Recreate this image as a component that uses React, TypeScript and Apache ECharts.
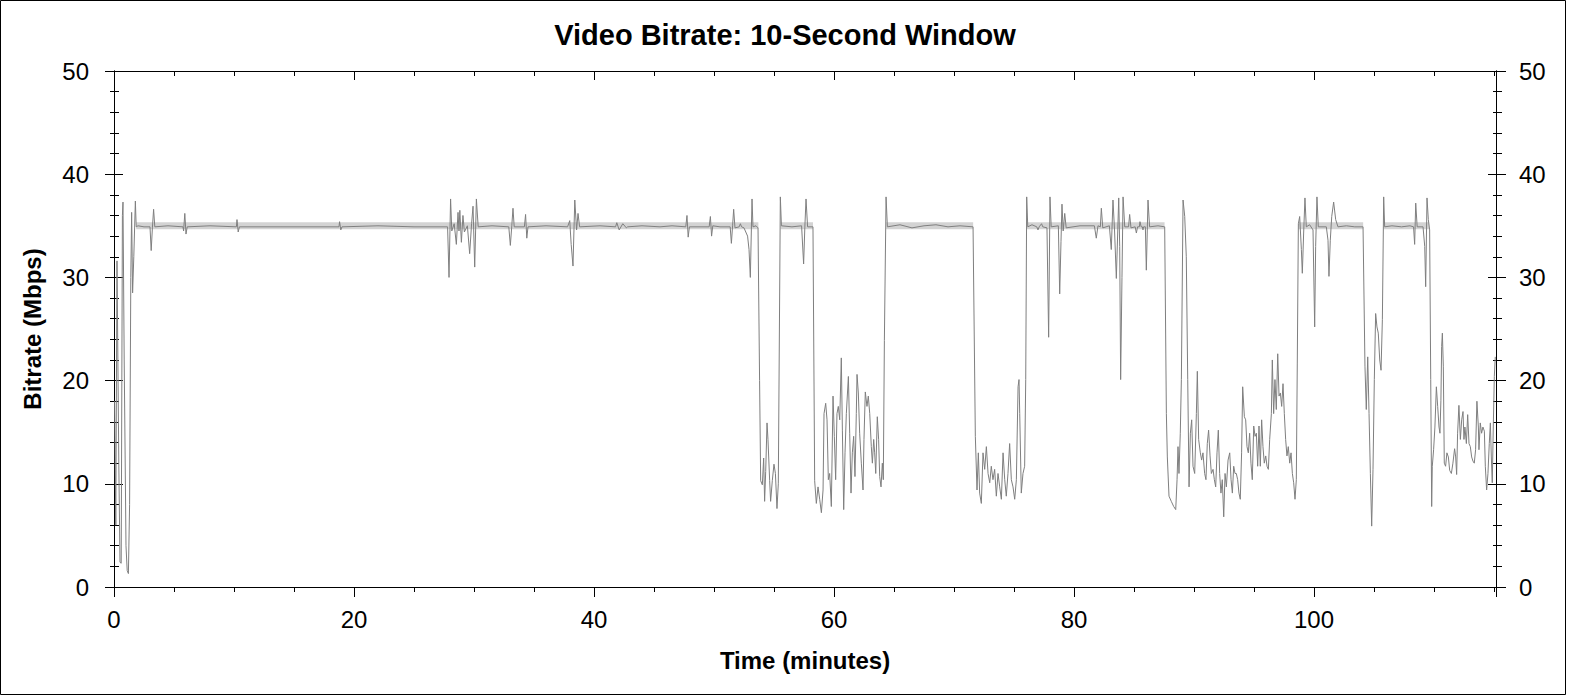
import React, { useEffect, useRef } from "react";
import * as echarts from "echarts";

// ---- Axis setup (minutes / Mbps) ----
const X_MAX = 115.17;
const X_STEP = 20;
const Y_MAX = 50;
const Y_STEP = 10;

// ---- Light band (peak envelope) on the constant-bitrate stretches ----
const bandLevel = 35;
const bandSegments: [number, number][] = [
  [1.85, 53.7],
  [55.55, 58.25],
  [64.35, 71.6],
  [76.05, 87.55],
  [98.7, 104.1],
  [105.8, 109.6],
];

// ---- Bitrate trace: [minutes, Mbps] ----
const startBurst = [
  [0.05, 18], [0.15, 6], [0.25, 31.6], [0.4, 12], [0.5, 2.4], [0.6, 2.3], [0.7, 36], [0.75, 37.3],
  [0.85, 22], [1.0, 4], [1.1, 1.6], [1.2, 1.3], [1.3, 8], [1.4, 30], [1.47, 36.3], [1.55, 28.5],
  [1.65, 32], [1.78, 37.4], [1.85, 34.9],
];

const plateau1 = [
  [2.0, 35.0], [2.5, 34.9], [3.0, 34.9], [3.1, 32.6], [3.2, 34.8], [3.3, 36.6], [3.4, 34.9], [4.5, 35.0],
  [5.75, 34.9], [5.8, 34.5], [5.9, 36.2], [6.0, 34.2], [6.1, 34.9], [8, 35.0], [10.2, 34.9], [10.25, 35.6],
  [10.35, 34.4], [10.45, 34.9], [14, 34.9], [18.75, 34.9], [18.8, 35.4], [18.9, 34.6], [19.0, 34.9],
  [22, 35.0], [25, 34.9], [27.8, 34.9],
];

const plateau2 = [
  [27.92, 30.0], [28.05, 37.6], [28.15, 34.5], [28.35, 35.2], [28.53, 33.2], [28.67, 36.3], [28.75, 34.5],
  [28.82, 36.5], [28.95, 33.4], [29.08, 36.0], [29.2, 34.4], [29.45, 35.0], [29.64, 32.3], [29.8, 35.2],
  [29.92, 36.9], [30.06, 31.0], [30.2, 37.6], [30.35, 34.9], [31.5, 35.0], [32.9, 34.9], [33.03, 33.1],
  [33.15, 35.0], [33.25, 36.7], [33.35, 34.9], [34.2, 34.9], [34.3, 36.1], [34.4, 33.8], [34.5, 34.9],
  [36, 35.0], [37.8, 34.9], [37.98, 35.5], [38.1, 33.2], [38.25, 31.1], [38.4, 37.5], [38.55, 34.6],
  [38.67, 36.2], [38.8, 34.9], [40.5, 35.0], [41.8, 34.9], [41.9, 35.3], [42.1, 34.6], [42.4, 35.2],
  [42.7, 34.8], [42.8, 34.9], [44, 35.0], [45.5, 34.9], [46.5, 35.0], [47.65, 34.9], [47.75, 36.0],
  [47.85, 33.9], [47.95, 34.9], [49.6, 34.9], [49.7, 35.9], [49.8, 34.0], [49.9, 35.0], [50.5, 34.9],
  [51.35, 34.9], [51.45, 33.3], [51.55, 35.0], [51.64, 36.6], [51.75, 34.8], [52.1, 34.9], [52.2, 35.2],
  [52.3, 34.9], [52.5, 34.8], [52.8, 34.0], [52.92, 32.7], [53.03, 30.0], [53.17, 37.6], [53.25, 34.9],
  [53.5, 35.0], [53.67, 34.8],
];

const lowA = [
  [53.8, 20.0], [53.89, 10.3], [54.03, 9.9], [54.14, 12.5], [54.22, 8.3], [54.31, 11.2], [54.42, 15.9],
  [54.5, 14.3], [54.64, 10.3], [54.72, 8.3], [54.86, 10.3], [55.0, 11.9], [55.12, 11.0], [55.25, 7.6],
  [55.36, 10.0], [55.53, 37.8],
];

const plateau3 = [
  [55.62, 35.0], [56.5, 34.9], [57.3, 35.0], [57.47, 31.3], [57.57, 34.8], [57.67, 37.6], [57.8, 34.9],
  [58.25, 34.9],
];

const lowB = [
  [58.39, 10.3], [58.53, 8.1], [58.67, 9.7], [58.81, 8.5], [58.95, 7.2], [59.09, 9.4], [59.17, 16.8],
  [59.31, 17.8], [59.42, 16.2], [59.53, 10.4], [59.64, 11.0], [59.78, 7.8], [59.92, 18.5], [60.03, 14.6],
  [60.14, 10.4], [60.25, 16.8], [60.36, 17.5], [60.48, 16.2], [60.61, 22.2], [60.7, 15.2], [60.81, 7.5],
  [60.92, 13.0], [61.03, 16.8], [61.2, 20.4], [61.31, 14.9], [61.42, 9.1], [61.53, 13.0], [61.64, 14.6],
  [61.75, 10.7], [61.86, 16.8], [61.92, 20.6], [62.03, 18.8], [62.14, 14.9], [62.28, 12.0], [62.42, 9.4],
  [62.5, 14.3], [62.61, 18.9], [62.75, 17.5], [62.86, 18.5], [62.98, 16.8], [63.11, 13.6], [63.2, 12.0],
  [63.31, 14.3], [63.39, 13.0], [63.48, 11.0], [63.61, 16.5], [63.72, 14.3], [63.81, 10.7], [63.92, 9.7],
  [64.03, 12.0], [64.11, 10.4], [64.2, 23.9], [64.34, 37.8],
];

const plateau4 = [
  [64.45, 34.9], [65.5, 35.1], [66.5, 34.8], [67.5, 35.0], [68.5, 35.1], [69.5, 34.9], [70.5, 35.0],
  [71.59, 34.9],
];

const lowC = [
  [71.78, 14.6], [71.92, 9.4], [72.03, 13.0], [72.14, 9.1], [72.28, 8.1], [72.42, 13.0], [72.56, 11.4],
  [72.7, 13.6], [72.84, 11.0], [72.98, 10.1], [73.11, 11.7], [73.25, 10.4], [73.39, 11.4], [73.53, 8.8],
  [73.67, 11.0], [73.81, 9.7], [73.95, 8.5], [74.09, 13.0], [74.23, 10.4], [74.36, 8.8], [74.5, 11.0],
  [74.64, 13.9], [74.78, 10.4], [74.92, 9.7], [75.06, 8.5], [75.2, 10.4], [75.34, 19.4], [75.42, 20.1],
  [75.48, 16.8], [75.61, 9.1], [75.75, 11.0], [75.89, 11.7], [75.98, 20.1], [76.06, 37.8],
];

const plateau5 = [
  [76.15, 34.9], [76.5, 35.1], [76.9, 34.9], [77.0, 34.6], [77.1, 34.9], [77.3, 35.2], [77.4, 34.9],
  [77.75, 34.8], [77.89, 24.2], [78.0, 37.8], [78.1, 34.9], [78.7, 35.0], [78.81, 28.4], [78.92, 33.5],
  [79.0, 37.1], [79.1, 34.5], [79.23, 36.2], [79.35, 34.8], [80.5, 35.0], [81.7, 35.0], [81.86, 33.8],
  [82.0, 35.0], [82.2, 34.9], [82.28, 36.7], [82.4, 34.8], [82.95, 35.0], [83.11, 32.7], [83.25, 37.5],
  [83.38, 34.6], [83.53, 29.9], [83.73, 37.7], [83.81, 33.0], [83.89, 20.1], [84.0, 30.0], [84.09, 37.8],
  [84.23, 34.9], [84.55, 34.9], [84.64, 36.1], [84.75, 34.8], [85.1, 34.9], [85.2, 34.3], [85.3, 34.9],
  [85.45, 34.9], [85.5, 35.4], [85.6, 34.9], [85.7, 34.9], [85.75, 34.6], [85.8, 34.9], [85.95, 34.9],
  [86.03, 30.7], [86.17, 37.5], [86.3, 34.9], [87.0, 35.0], [87.56, 34.9],
];

const lowD = [
  [87.7, 16.8], [87.78, 12.6], [87.92, 8.8], [88.11, 8.3], [88.31, 7.8], [88.48, 7.5], [88.59, 10.4],
  [88.67, 13.6], [88.75, 11.0], [88.86, 14.9], [88.95, 20.1], [89.09, 37.5], [89.23, 35.9], [89.36, 32.0],
  [89.48, 20.1], [89.59, 9.7], [89.7, 14.9], [89.81, 16.2], [89.92, 11.7], [90.06, 11.0], [90.2, 16.8],
  [90.28, 20.9], [90.39, 14.3], [90.53, 13.0], [90.64, 12.3], [90.75, 13.0], [90.89, 11.0], [91.0, 10.4],
  [91.11, 13.9], [91.22, 15.2], [91.34, 12.7], [91.45, 11.0], [91.59, 11.4], [91.7, 10.4], [91.81, 9.7],
  [91.92, 13.0], [92.03, 15.2], [92.14, 11.0], [92.25, 9.1], [92.36, 10.4], [92.48, 6.8], [92.59, 11.0],
  [92.7, 9.7], [92.84, 12.3], [92.98, 13.0], [93.09, 10.4], [93.2, 9.1], [93.31, 11.7], [93.42, 11.0],
  [93.53, 11.0], [93.64, 10.4], [93.75, 9.1], [93.86, 8.5], [93.97, 13.0], [94.06, 19.4], [94.2, 16.5],
  [94.31, 16.2], [94.42, 13.6], [94.53, 13.0], [94.64, 14.9], [94.75, 12.0], [94.86, 10.4], [94.98, 15.6],
  [95.09, 14.6], [95.2, 14.9], [95.31, 11.7], [95.42, 15.6], [95.53, 11.7], [95.64, 16.2], [95.75, 13.6],
  [95.86, 12.0], [95.98, 12.7], [96.09, 11.7], [96.2, 11.4], [96.31, 14.3], [96.45, 16.8], [96.53, 22.0],
  [96.64, 16.8], [96.75, 20.1], [96.86, 17.2], [96.98, 22.6], [97.09, 18.5], [97.2, 18.8], [97.31, 17.5],
  [97.42, 19.7], [97.53, 16.8], [97.64, 14.3], [97.75, 12.7], [97.86, 13.6], [97.98, 12.0], [98.09, 13.0],
  [98.2, 11.0], [98.31, 10.1], [98.42, 8.5], [98.53, 10.4], [98.61, 21.7],
];

const plateau6 = [
  [98.7, 35.2], [98.81, 35.9], [98.95, 32.7], [99.03, 30.4], [99.14, 34.3], [99.25, 37.7], [99.36, 34.9],
  [99.64, 35.1], [99.92, 34.6], [100.06, 25.2], [100.14, 33.0], [100.25, 37.8], [100.36, 34.9],
  [101.03, 34.9], [101.17, 33.6], [101.25, 30.1], [101.36, 33.6], [101.48, 35.9], [101.64, 37.3],
  [101.81, 35.6], [102.0, 34.9], [102.7, 35.0], [103.4, 34.9], [104.09, 34.9],
];

const lowE = [
  [104.25, 21.4], [104.36, 17.2], [104.48, 22.3], [104.59, 16.8], [104.7, 11.0], [104.81, 5.9],
  [104.92, 11.4], [105.03, 20.1], [105.14, 26.5], [105.25, 25.2], [105.36, 24.6], [105.48, 22.0],
  [105.59, 21.0], [105.7, 25.9], [105.81, 37.8],
];

const plateau7 = [
  [105.89, 34.9], [106.5, 35.0], [107.3, 34.9], [108.0, 35.0], [108.3, 34.9], [108.39, 33.2],
  [108.48, 37.2], [108.6, 34.9], [109.09, 34.9], [109.23, 33.0], [109.31, 29.1], [109.42, 37.7],
  [109.53, 35.6], [109.64, 34.6],
];

const tail = [
  [109.73, 20.1], [109.81, 7.8], [109.86, 11.7], [109.97, 13.3], [110.08, 15.5], [110.2, 19.4],
  [110.31, 17.5], [110.42, 15.5], [110.5, 14.9], [110.58, 18.1], [110.64, 23.3], [110.7, 24.6],
  [110.78, 21.4], [110.86, 12.0], [110.97, 11.7], [111.08, 13.0], [111.2, 12.6], [111.31, 11.3],
  [111.45, 11.0], [111.58, 12.0], [111.72, 13.4], [111.81, 12.6], [111.89, 10.9], [111.97, 14.9],
  [112.08, 17.6], [112.2, 14.3], [112.31, 16.2], [112.42, 17.0], [112.5, 14.3], [112.58, 15.5],
  [112.7, 13.9], [112.81, 16.7], [112.92, 13.9], [113.03, 13.6], [113.14, 12.6], [113.25, 12.2],
  [113.36, 12.0], [113.47, 13.3], [113.58, 18.0], [113.7, 15.5], [113.75, 13.3], [113.86, 15.9],
  [113.97, 14.9], [114.08, 15.5], [114.2, 15.1], [114.28, 11.7], [114.39, 9.4], [114.5, 11.0],
  [114.61, 13.9], [114.7, 15.9], [114.78, 12.6], [114.86, 10.1], [114.95, 15.9], [115.03, 20.4],
  [115.11, 22.3],
];

const TITLE = "Video Bitrate: 10-Second Window";
const X_NAME = "Time (minutes)";
const Y_NAME = "Bitrate (Mbps)";

export default function App() {
  const ref = useRef<HTMLDivElement>(null);

  useEffect(() => {
    if (!ref.current) return;
    const chart = echarts.init(ref.current, null, { renderer: "svg" });
    const font = "'Liberation Sans', Arial, Helvetica, sans-serif";
    const black = "#000000";

    const mainData = [
      ...startBurst, ...plateau1, ...plateau2, ...lowA, ...plateau3, ...lowB, ...plateau4,
      ...lowC, ...plateau5, ...lowD, ...plateau6, ...lowE, ...plateau7, ...tail,
    ];
    const bandData: any[] = [];
    bandSegments.forEach(([a, b]) => {
      bandData.push([a, bandLevel], [b, bandLevel], null);
    });

    const lineStyle = { color: black, width: 1 };

    const xBase = {
      type: "value",
      min: 0,
      max: X_MAX,
      interval: X_STEP,
      splitLine: { show: false },
      axisLine: { show: true, onZero: false, lineStyle },
    };
    const yBase = {
      type: "value",
      min: 0,
      max: Y_MAX,
      interval: Y_STEP,
      splitLine: { show: false },
      axisLine: { show: true, onZero: false, lineStyle },
    };
    const labelStyle = { fontFamily: font, fontSize: 24, color: black };

    chart.setOption({
      animation: false,
      backgroundColor: "#ffffff",
      title: {
        text: TITLE,
        left: "center",
        top: 15,
        textStyle: { fontFamily: font, fontSize: 29, fontWeight: "bold", color: black },
      },
      grid: { left: 114, top: 71, width: 1382, height: 516, containLabel: false },
      xAxis: [
        {
          ...xBase,
          position: "bottom",
          axisTick: { show: true, inside: false, length: 10, lineStyle },
          minorTick: { show: true, splitNumber: 4, length: 5, lineStyle },
          axisLabel: { ...labelStyle, margin: 20, showMaxLabel: false },
          name: X_NAME,
          nameLocation: "middle",
          nameGap: 61,
          nameTextStyle: { fontFamily: font, fontSize: 24, fontWeight: "bold", color: black },
        },
        {
          ...xBase,
          position: "top",
          axisTick: { show: true, inside: true, length: 9, lineStyle },
          minorTick: { show: true, splitNumber: 4, length: 5, lineStyle },
          axisLabel: { show: false },
        },
      ],
      yAxis: [
        {
          ...yBase,
          position: "left",
          axisTick: { show: true, inside: false, length: 9, lineStyle },
          minorTick: { show: true, splitNumber: 5, length: 4, lineStyle },
          axisLabel: { ...labelStyle, margin: 25 },
          name: Y_NAME,
          nameLocation: "middle",
          nameGap: 70,
          nameTextStyle: { fontFamily: font, fontSize: 24, fontWeight: "bold", color: black },
        },
        {
          ...yBase,
          position: "left",
          axisTick: { show: true, inside: true, length: 9, lineStyle },
          minorTick: { show: true, splitNumber: 5, length: 5, lineStyle },
          axisLabel: { show: false },
        },
        {
          ...yBase,
          position: "right",
          axisTick: { show: true, inside: false, length: 10, lineStyle },
          minorTick: { show: true, splitNumber: 5, length: 6, lineStyle },
          axisLabel: { ...labelStyle, margin: 23 },
        },
        {
          ...yBase,
          position: "right",
          axisTick: { show: true, inside: true, length: 8, lineStyle },
          minorTick: { show: true, splitNumber: 5, length: 3, lineStyle },
          axisLabel: { show: false },
        },
      ],
      graphic: [
        {
          type: "rect",
          shape: { x: 0.5, y: 0.5, width: 1565, height: 694 },
          style: { fill: "none", stroke: "#000000", lineWidth: 1 },
          silent: true,
          z: 100,
        },
      ],
      series: [
        {
          name: "band",
          type: "line",
          xAxisIndex: 0,
          yAxisIndex: 0,
          data: bandData,
          symbol: "none",
          connectNulls: false,
          silent: true,
          lineStyle: { color: "#d3d3d3", width: 7 },
          z: 2,
        },
        {
          name: "bitrate",
          type: "line",
          xAxisIndex: 0,
          yAxisIndex: 0,
          data: mainData,
          symbol: "none",
          silent: true,
          lineStyle: { color: "#7f7f7f", width: 1 },
          z: 3,
        },
      ],
    });

    return () => {
      chart.dispose();
    };
  }, []);

  return (
    <div
      ref={ref}
      style={{ position: "absolute", left: 0, top: 0, width: 1570, height: 695, background: "#ffffff" }}
    />
  );
}
